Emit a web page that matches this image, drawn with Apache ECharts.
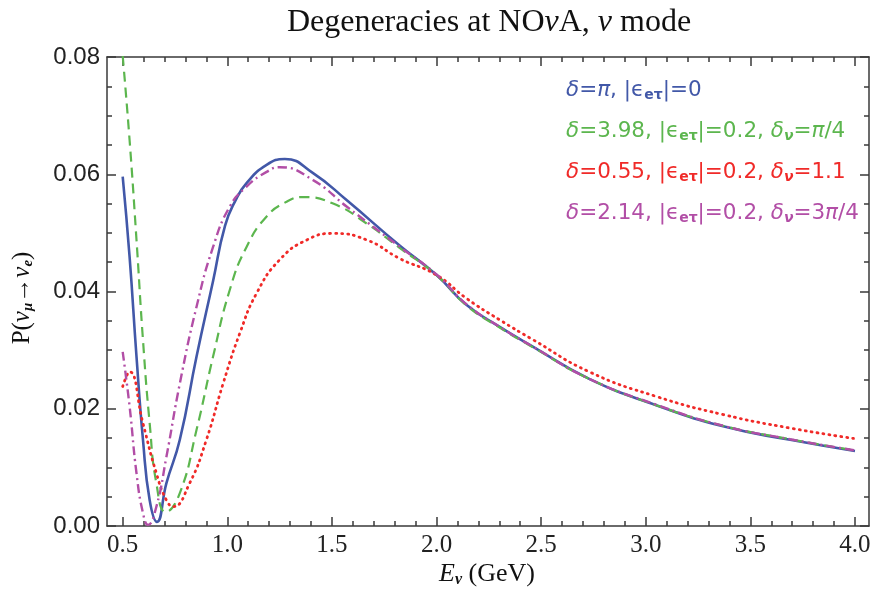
<!DOCTYPE html>
<html><head><meta charset="utf-8">
<script src="https://cdn.jsdelivr.net/npm/echarts@6/dist/echarts.min.js"></script>
<style>html,body{margin:0;padding:0;background:#fff}#c{width:871px;height:595px}</style>
</head><body><div id="c"></div>
<script>
// ---- data ----
const E_blue = [0.5,0.533,0.566,0.597,0.629,0.664,0.709,0.773,0.853,0.932,0.989,1.04,1.092,1.188,1.275,1.41,1.57,1.825,2.0,2.144,2.3,2.46,2.73,3.05,3.37,3.69,4.0];
const P_blue = [0.0596,0.0459,0.0289,0.0147,0.0044,0.0007,0.0073,0.0147,0.0289,0.0418,0.0512,0.0556,0.0585,0.0616,0.0626,0.0602,0.0556,0.0478,0.0428,0.0377,0.0340,0.0306,0.0251,0.0206,0.0170,0.0147,0.0128];

const E_green = [0.5,0.533,0.566,0.597,0.629,0.661,0.706,0.773,0.853,0.932,1.012,1.092,1.188,1.283,1.363,1.506,1.666,1.825,2.0,2.144,2.3,2.46,2.73,3.05,3.37,3.69,4.0];
const P_green = [0.0802,0.0658,0.0488,0.0317,0.0175,0.0073,0.0024,0.0056,0.0164,0.0289,0.0403,0.0476,0.0528,0.0553,0.0561,0.0550,0.0516,0.0474,0.0428,0.0376,0.0339,0.0305,0.0251,0.0206,0.0171,0.0148,0.0129];

const E_red = [0.5,0.533,0.597,0.661,0.709,0.741,0.82,0.90,0.98,1.06,1.14,1.25,1.38,1.506,1.666,1.825,2.0,2.144,2.3,2.46,2.73,3.05,3.37,3.69,4.0];
const P_red = [0.0238,0.0263,0.0175,0.0090,0.0044,0.0033,0.0073,0.0147,0.0243,0.0329,0.0397,0.0454,0.0488,0.0499,0.0488,0.0456,0.0428,0.0388,0.0352,0.0318,0.0263,0.0221,0.0190,0.0167,0.0149];

const E_mag = [0.5,0.533,0.566,0.597,0.621,0.661,0.709,0.773,0.853,0.932,1.012,1.092,1.188,1.25,1.41,1.57,1.825,2.0,2.144,2.3,2.46,2.73,3.05,3.37,3.69,4.0];
const P_mag = [0.0297,0.0204,0.0090,0.0022,0.0002,0.0033,0.0118,0.0243,0.0374,0.0476,0.0545,0.0579,0.0604,0.0612,0.0590,0.0545,0.0476,0.0429,0.0378,0.0340,0.0306,0.0251,0.0207,0.0171,0.0148,0.0129];

const xMajor = [0.5,1.0,1.5,2.0,2.5,3.0,3.5,4.0];
const xMinor = [0.6,0.7,0.8,0.9,1.1,1.2,1.3,1.4,1.6,1.7,1.8,1.9,2.1,2.2,2.3,2.4,2.6,2.7,2.8,2.9,3.1,3.2,3.3,3.4,3.6,3.7,3.8,3.9];
const yMajor = [0,0.02,0.04,0.06,0.08];
const yMinor = [0.005,0.01,0.015,0.025,0.03,0.035,0.045,0.05,0.055,0.065,0.07,0.075];

const C_BLUE = '#4258a8', C_GREEN = '#5cb64e', C_RED = '#f02a28', C_MAG = '#b24ea6';

const XMIN = 0.425, XMAX = 4.067, YMIN = 0, YMAX = 0.08;
const frame = {color:'#3a3a3a', width:1.5};

function xAx(pos, ticks, len, showLine, labels){
  return {type:'value', min:XMIN, max:XMAX, position:pos, gridIndex:0,
    axisLine:{show:showLine, onZero:false, lineStyle:frame},
    axisTick:{show:true, inside:true, length:len, customValues:ticks, lineStyle:frame},
    axisLabel: labels ? {show:true, customValues:xMajor, formatter:v=>v.toFixed(1), margin:7,
      fontFamily:'Liberation Serif', fontSize:25, color:'#222'} : {show:false},
    splitLine:{show:false}, minorTick:{show:false}};
}
function yAx(pos, ticks, len, showLine, labels){
  return {type:'value', min:YMIN, max:YMAX, position:pos, gridIndex:0,
    axisLine:{show:showLine, onZero:false, lineStyle:frame},
    axisTick:{show:true, inside:true, length:len, customValues:ticks, lineStyle:frame},
    axisLabel: labels ? {show:true, customValues:yMajor, formatter:v=>v.toFixed(2), margin:7,
      fontFamily:'Liberation Sans', fontSize:24, color:'#222'} : {show:false},
    splitLine:{show:false}, minorTick:{show:false}};
}
const pairs = (E,P)=>E.map((e,i)=>[e,P[i]]);

const chart = echarts.init(document.getElementById('c'), null, {renderer:'canvas'});
const legFont = 'DejaVu Sans';
const rich = (col)=>({
  a:{fontFamily:legFont, fontSize:21.5, color:col},
  i:{fontFamily:legFont, fontSize:21.5, color:col, fontStyle:'italic'},
  s:{fontFamily:legFont, fontSize:14, color:col, fontWeight:'bold', verticalAlign:'bottom', lineHeight:25},
  si:{fontFamily:legFont, fontSize:14, color:col, fontStyle:'italic', fontWeight:'bold', verticalAlign:'bottom', lineHeight:25}
});
function legText(y, txt, col){
  return {type:'text', left:566, top:y, style:{text:txt, rich:rich(col), fill:col}};
}

chart.setOption({
  animation:false,
  backgroundColor:'#fff',
  grid:{left:107, right:2, top:57, bottom:69, outerBoundsMode:'none'},
  xAxis:[xAx('bottom', xMajor, 9, true, true), xAx('bottom', xMinor, 5, false, false),
         xAx('top', xMajor, 9, true, false), xAx('top', xMinor, 5, false, false)],
  yAxis:[yAx('left', yMajor, 9, true, true), yAx('left', yMinor, 5, false, false),
         yAx('right', yMajor, 9, true, false), yAx('right', yMinor, 5, false, false)],
  series:[
    {type:'line', name:'blue', data:pairs(E_blue,P_blue), showSymbol:false, smooth:0.5, clip:true,
     lineStyle:{color:C_BLUE, width:2.6}},
    {type:'line', name:'green', data:pairs(E_green,P_green), showSymbol:false, smooth:0.5, clip:true,
     lineStyle:{color:C_GREEN, width:2.2, type:[10,6]}},
    {type:'line', name:'red', data:pairs(E_red,P_red), showSymbol:false, smooth:0.5, clip:true,
     lineStyle:{color:C_RED, width:2.8, type:[1,5], cap:'round'}},
    {type:'line', name:'mag', data:pairs(E_mag,P_mag), showSymbol:false, smooth:0.5, clip:true,
     lineStyle:{color:C_MAG, width:2.4, type:[9,4,2,4]}}
  ],
  graphic:[
    {type:'text', x:489, y:23, style:{text:'Degeneracies at NO{i|ν}A, {i|ν} mode', textAlign:'center', textVerticalAlign:'middle',
      rich:{i:{fontFamily:'Liberation Serif', fontSize:32, fontStyle:'italic', fill:'#111'}}, font:'32px "Liberation Serif"', fill:'#111'}},
    {type:'text', x:487, y:574, style:{text:'{i|E}{s|ν} (GeV)', textAlign:'center', textVerticalAlign:'middle',
      rich:{i:{fontFamily:'Liberation Serif', fontSize:26, fontStyle:'italic', fill:'#111'},
            s:{fontFamily:'Liberation Serif', fontSize:16, fontStyle:'italic', fontWeight:'bold', fill:'#111', verticalAlign:'bottom', lineHeight:28}},
      font:'26px "Liberation Serif"', fill:'#111'}},
    {type:'text', x:22, y:298, rotation:Math.PI/2, style:{text:'P({i|ν}{s|μ}→{i|ν}{s|e})', textAlign:'center', textVerticalAlign:'middle',
      rich:{i:{fontFamily:'Liberation Serif', fontSize:25, fontStyle:'italic', fill:'#111'},
            s:{fontFamily:'Liberation Serif', fontSize:15, fontStyle:'italic', fontWeight:'bold', fill:'#111', verticalAlign:'bottom', lineHeight:28}},
      font:'25px "Liberation Serif"', fill:'#111'}},
    legText(79, '{i|δ}{a|=}{i|π}{a|, |ϵ}{s|eτ}{a||=0}', C_BLUE),
    legText(120, '{i|δ}{a|=3.98, |ϵ}{s|eτ}{a||=0.2, }{i|δ}{si|ν}{a|=}{i|π}{a|/4}', C_GREEN),
    legText(161, '{i|δ}{a|=0.55, |ϵ}{s|eτ}{a||=0.2, }{i|δ}{si|ν}{a|=1.1}', C_RED),
    legText(202, '{i|δ}{a|=2.14, |ϵ}{s|eτ}{a||=0.2, }{i|δ}{si|ν}{a|=3}{i|π}{a|/4}', C_MAG)
  ]
});
</script></body></html>
